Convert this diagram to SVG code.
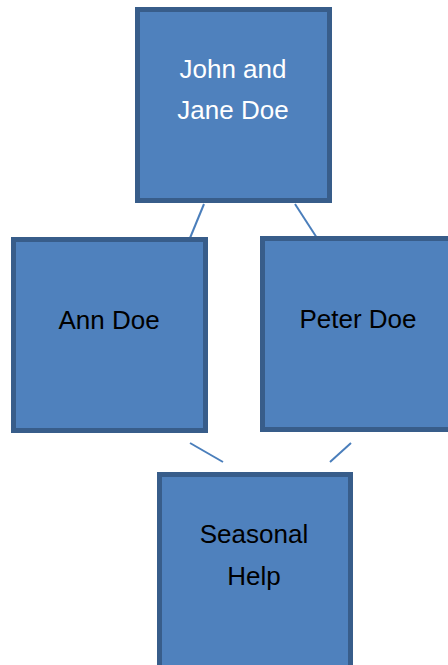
<svg xmlns="http://www.w3.org/2000/svg" width="448" height="665" viewBox="0 0 448 665">
<style>
.box{fill:#4f81bd;stroke:#385d8a;stroke-width:5;}
.lbl{font-family:"Liberation Sans",Arial,sans-serif;font-size:26px;text-anchor:middle;fill:#000;}
.w{fill:#fff;}
.con{stroke:#4a7ebb;stroke-width:2;fill:none;}
</style>
<rect width="448" height="665" fill="#fff"/>
<g id="connectors">
<line class="con" x1="204" y1="204" x2="190" y2="238"/>
<line class="con" x1="295" y1="204" x2="317" y2="238"/>
<line class="con" x1="190" y1="443" x2="223" y2="462"/>
<line class="con" x1="351" y1="443" x2="330" y2="462"/>
</g>
<g id="john-jane">
<rect class="box" x="137.5" y="9.5" width="192" height="191"/>
<text class="lbl w" x="233" y="78">John and</text>
<text class="lbl w" x="233" y="119">Jane Doe</text>
</g>
<g id="ann">
<rect class="box" x="13.5" y="239.5" width="192" height="191"/>
<text class="lbl" x="109" y="329">Ann Doe</text>
</g>
<g id="peter">
<rect class="box" x="262.5" y="238.5" width="190" height="191"/>
<text class="lbl" x="358" y="328">Peter Doe</text>
</g>
<g id="seasonal">
<rect class="box" x="159.5" y="474.5" width="191" height="200"/>
<text class="lbl" x="254" y="543">Seasonal</text>
<text class="lbl" x="254" y="585">Help</text>
</g>
</svg>
